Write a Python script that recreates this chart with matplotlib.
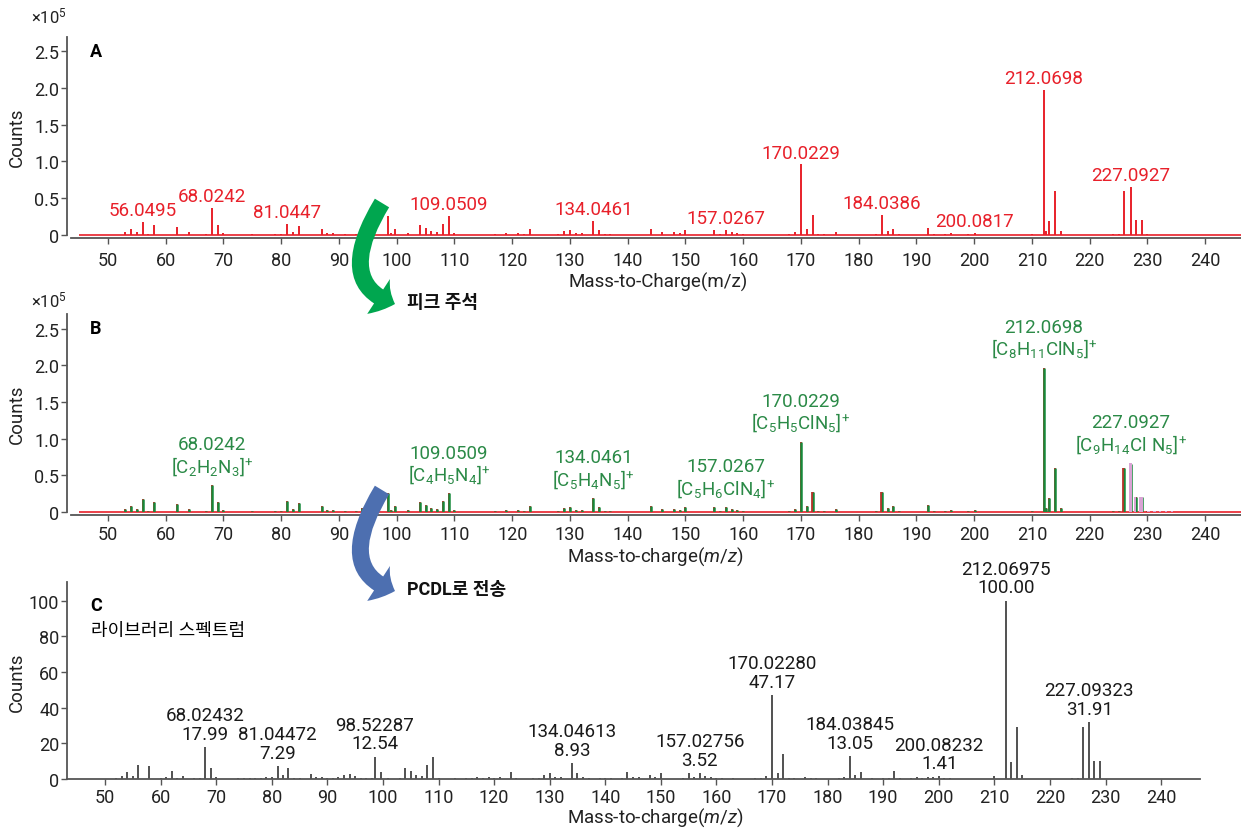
import matplotlib
matplotlib.use('Agg')
import matplotlib.pyplot as plt
from matplotlib.patches import FancyArrowPatch
from matplotlib.path import Path

plt.rcParams['font.family'] = ['Roboto', 'Noto Sans CJK KR', 'DejaVu Sans']
plt.rcParams['mathtext.fontset'] = 'custom'
plt.rcParams['mathtext.rm'] = 'Roboto'
plt.rcParams['mathtext.it'] = 'Roboto:italic'
plt.rcParams['mathtext.bf'] = 'Roboto:bold'

W, H = 1241, 829

# 측정 스펙트럼 (Counts x10^5)
mz_a = [53, 54, 55, 56.0495, 57, 58, 62, 64, 67, 68.0242, 69, 70, 75, 79, 80,
        81.0447, 82, 83, 87, 88, 89, 91, 93, 94, 95, 96, 98.5, 99, 99.7, 102,
        104, 105, 106, 107, 108, 109.0509, 110, 117, 119, 121, 122, 123, 128,
        129, 130, 131, 132, 134.0461, 135, 136, 137, 144, 146, 148, 149, 150,
        155, 156, 157.0267, 158, 159, 160, 168, 169, 170.0229, 171, 172, 173,
        174, 176, 183, 184.0386, 185, 186, 187, 192, 193, 195, 196, 199,
        200.0817, 210, 212.0698, 212.4, 213, 214, 215, 224, 225, 226,
        227.0927, 228, 229, 230]
counts_a = [0.045, 0.077, 0.04, 0.177, 0.02, 0.14, 0.105, 0.04, 0.02, 0.37,
            0.13, 0.03, 0.01, 0.02, 0.02, 0.15, 0.04, 0.12, 0.08, 0.03, 0.03,
            0.02, 0.02, 0.06, 0.03, 0.02, 0.255, 0.03, 0.085, 0.03, 0.13, 0.10,
            0.05, 0.04, 0.155, 0.255, 0.03, 0.02, 0.03, 0.03, 0.02, 0.08, 0.02,
            0.06, 0.07, 0.03, 0.03, 0.19, 0.07, 0.02, 0.02, 0.08, 0.04, 0.04,
            0.03, 0.07, 0.07, 0.02, 0.07, 0.04, 0.03, 0.02, 0.02, 0.04, 0.96,
            0.08, 0.27, 0.02, 0.02, 0.04, 0.02, 0.27, 0.06, 0.08, 0.02, 0.095,
            0.02, 0.02, 0.03, 0.02, 0.03, 0.02, 1.97, 0.05, 0.19, 0.60, 0.05,
            0.02, 0.02, 0.595, 0.655, 0.21, 0.21, 0.02]
labels_a = [56.0495, 68.0242, 81.0447, 109.0509, 134.0461, 157.0267, 170.0229,
            184.0386, 200.0817, 212.0698, 227.0927]

# 피크 주석 (B)
labels_b = [68.0242, 109.0509, 134.0461, 157.0267, 170.0229, 212.0698, 227.0927]
formulas_b = [r'$\mathrm{[C_2H_2N_3]}^{\!+}$', r'$\mathrm{[C_4H_5N_4]}^{\!+}$',
              r'$\mathrm{[C_5H_4N_5]}^{\!+}$', r'$\mathrm{[C_5H_6ClN_4]}^{\!+}$',
              r'$\mathrm{[C_5H_5ClN_5]}^{\!+}$', r'$\mathrm{[C_8H_{11}ClN_5]}^{\!+}$',
              r'$\mathrm{[C_9H_{14}Cl\ N_5]}^{\!+}$']
red_only_b = [172, 184.0386, 226]
iso_mz = [227.0, 227.8, 228.9, 230.2, 231.2, 232.2, 233.2, 234.2]
iso_counts = [0.67, 0.20, 0.21, 0.012, 0.01, 0.01, 0.01, 0.01]
iso_width = [0.5, 0.3, 0.8, 0.4, 0.4, 0.4, 0.4, 0.4]

# 라이브러리 스펙트럼 (C)
mz_c = [52, 53, 54, 55, 56, 58, 60, 61, 62, 63, 64, 66, 67, 68.02432, 69, 70,
        74, 75, 76, 77, 78, 79, 80, 81.04472, 82, 83, 84, 85, 87, 88, 89, 90,
        91, 92, 93, 94, 95, 96, 97, 98, 98.52287, 99.7, 101, 103, 104, 105,
        106, 107, 108, 109, 110, 113, 115, 116, 117, 118, 119, 120, 121, 123,
        124, 127, 128, 129, 130, 131, 132, 134.04613, 135, 136, 137, 139, 140,
        141, 143, 144, 145, 146, 148, 149, 150, 154, 155, 156, 157.02756, 158,
        159, 160, 161, 163, 167, 168, 169, 170.0228, 171, 172, 173, 174, 176,
        177, 178, 182, 183, 184.03845, 185, 186, 188, 190, 191, 192, 193, 195,
        196, 197, 198, 199, 200.08232, 201, 202, 210, 212.06975, 213, 214, 215,
        224, 225, 226, 227.09323, 228, 229]
int_c = [0.6, 1.5, 3.7, 1.5, 7.8, 7.1, 0.5, 1.0, 4.7, 0.8, 1.5, 0.6, 0.8, 17.99,
         6.2, 1.0, 0.6, 0.8, 0.5, 0.6, 0.6, 1.2, 1.0, 7.29, 2.0, 6.2, 0.6, 0.6,
         2.8, 1.0, 1.2, 0.6, 0.8, 1.0, 2.0, 3.0, 1.5, 0.6, 0.6, 0.8, 12.54, 3.7,
         0.8, 0.8, 6.0, 4.5, 2.0, 1.5, 7.8, 12.3, 0.6, 0.5, 0.5, 0.6, 1.0, 0.5,
         1.0, 0.6, 1.0, 3.7, 0.5, 0.5, 0.6, 2.0, 3.2, 1.3, 1.2, 8.93, 3.2, 1.0,
         0.6, 0.5, 0.6, 0.6, 0.6, 3.7, 1.2, 1.2, 2.0, 1.0, 3.5, 0.6, 3.5, 1.0,
         3.52, 1.5, 1.2, 0.6, 0.6, 0.5, 0.6, 0.8, 1.5, 47.17, 3.2, 14.0, 0.6,
         0.6, 1.2, 0.6, 0.6, 0.6, 1.0, 13.05, 2.2, 4.1, 0.6, 0.6, 0.8, 4.7, 0.8,
         0.8, 1.3, 0.6, 1.0, 1.4, 1.41, 0.8, 0.6, 1.5, 100.0, 9.3, 29.3, 2.0,
         0.6, 0.6, 29.3, 31.91, 10.0, 10.0]
labels_c = [68.02432, 81.04472, 98.52287, 134.04613, 157.02756, 170.0228,
            184.03845, 200.08232, 212.06975, 227.09323]

RED = '#e8202a'
GREEN = '#17893a'
GREEN_TXT = '#2b8a47'
PINK = '#d9a3d4'
SP = '#555555'


def box(left, top, right, bottom):
    return [left / W, 1 - bottom / H, (right - left) / W, (bottom - top) / H]


def px(x, y):
    return (x / W, 1 - y / H)


def style(ax, out_l=0, out_b=0, xpad=5):
    for s in ['top', 'right']:
        ax.spines[s].set_visible(False)
    for s in ['left', 'bottom']:
        ax.spines[s].set_color(SP)
        ax.spines[s].set_linewidth(1.3)
    ax.spines['left'].set_position(('outward', out_l))
    ax.spines['bottom'].set_position(('outward', out_b))
    ax.tick_params(direction='out', length=4, width=1, color=SP,
                   labelsize=13, labelcolor='#222222')
    ax.tick_params(axis='x', pad=xpad)
    ax.tick_params(axis='y', pad=1.5)
    ax.set_xticks(range(50, 241, 10))
    ax.patch.set_alpha(0)


fig = plt.figure(figsize=(W / 100, H / 100), dpi=100)

# ---- A
ax = fig.add_axes(box(71, 38, 1241, 236))
style(ax, 2.9, 2.2)
ax.set_xlim(43.6, 246.2)
ax.set_ylim(0, 2.69)
ax.set_yticks([0, 0.5, 1.0, 1.5, 2.0, 2.5])
ax.set_yticklabels(['0', '0.5', '1.0', '1.5', '2.0', '2.5'])
ax.hlines(0, 45, 246.2, color=RED, lw=1.2, clip_on=False)
ax.vlines(mz_a, 0, counts_a, color=RED, lw=1.4)
for m in labels_a:
    ax.annotate(f'{m:.4f}', (m, counts_a[mz_a.index(m)]), xytext=(0, 2),
                textcoords='offset points', ha='center', va='bottom',
                color=RED, fontsize=13.5)
ax.text(0.016, 0.93, 'A', transform=ax.transAxes, fontsize=13,
        fontweight='bold', va='center')

# ---- B
ax = fig.add_axes(box(71, 315, 1241, 513))
style(ax, 2.9, 2.2, xpad=3.5)
ax.set_xlim(43.6, 246.2)
ax.set_ylim(0, 2.70)
ax.set_yticks([0, 0.5, 1.0, 1.5, 2.0, 2.5])
ax.set_yticklabels(['0', '0.5', '1.0', '1.5', '2.0', '2.5'])
ax.hlines(0, 45, 246.2, color=RED, lw=1.2, clip_on=False)
ax.vlines(mz_a, 0, counts_a, color=RED, lw=1.4)
ax.vlines(mz_a, 0, counts_a, color=GREEN, lw=1.8)
ax.bar(iso_mz, iso_counts, width=iso_width, color=PINK, zorder=5)
red_h = [counts_a[mz_a.index(m)] for m in red_only_b]
ax.vlines([m - 0.15 for m in red_only_b], 0, red_h, color='#b8322a', lw=1.3,
          zorder=4)
for m, f in zip(labels_b, formulas_b):
    h = counts_a[mz_a.index(m)]
    if abs(m - iso_mz[0]) < 0.2:
        h = max(h, iso_counts[0])
    ax.annotate(f'{m:.4f}\n{f}', (m, h), xytext=(0, 6),
                textcoords='offset points', ha='center', va='bottom',
                color=GREEN_TXT, fontsize=13.5, linespacing=1.05)
ax.text(0.016, 0.93, 'B', transform=ax.transAxes, fontsize=13,
        fontweight='bold', va='center')

# ---- C
ax = fig.add_axes(box(67, 583, 1200, 780))
style(ax, xpad=2.5)
ax.set_xlim(43.16, 247.0)
ax.set_ylim(0, 110.4)
ax.set_yticks(range(0, 101, 20))
ax.vlines(mz_c, 0, int_c, color='#222222', lw=1.1)
for m in labels_c:
    v = int_c[mz_c.index(m)]
    ax.annotate(f'{m:.5f}\n{v:.2f}', (m, v), xytext=(0, 3),
                textcoords='offset points', ha='center', va='bottom',
                color='#1a1a1a', fontsize=13.5, linespacing=1.05)
fig.text(*px(90, 606), 'C', fontsize=13, fontweight='bold', va='center')
fig.text(*px(91, 631), '라이브러리 스펙트럼', fontsize=13, va='center')

# ---- 축 제목
for y in [137, 414, 682]:
    fig.text(*px(17, y), 'Counts', rotation=90, ha='center', va='center',
             fontsize=13.5, color='#222222')
for y in [16, 300]:
    fig.text(*px(31, y), r'×10$^{5}$', ha='left', va='center', fontsize=12,
             color='#222222')
fig.text(*px(658, 282), 'Mass-to-Charge(m/z)', ha='center', va='center',
         fontsize=13.5, color='#222222')
fig.text(*px(655, 557), r'Mass-to-charge($\it{m/z}$)', ha='center',
         va='center', fontsize=13.5, color='#222222')
fig.text(*px(655, 818), r'Mass-to-charge($\it{m/z}$)', ha='center',
         va='center', fontsize=13.5, color='#222222')

# ---- 화살표
for dy, col, txt in [(0, '#00a64f', '피크 주석'), (287, '#4d6fb0', 'PCDL로 전송')]:
    path = Path([px(382, 204 + dy), px(333, 285 + dy), px(395, 305 + dy)],
                [Path.MOVETO, Path.CURVE3, Path.CURVE3])
    arr = FancyArrowPatch(path=path, transform=fig.transFigure,
                          arrowstyle='simple,head_length=13,head_width=30,tail_width=12',
                          mutation_scale=1, color=col, lw=0, zorder=10)
    fig.add_artist(arr)
    fig.text(*px(407, 304 + dy - 1), txt, fontsize=13, fontweight='bold',
             va='center', color='#111111')

fig.savefig('out.png', dpi=100)
